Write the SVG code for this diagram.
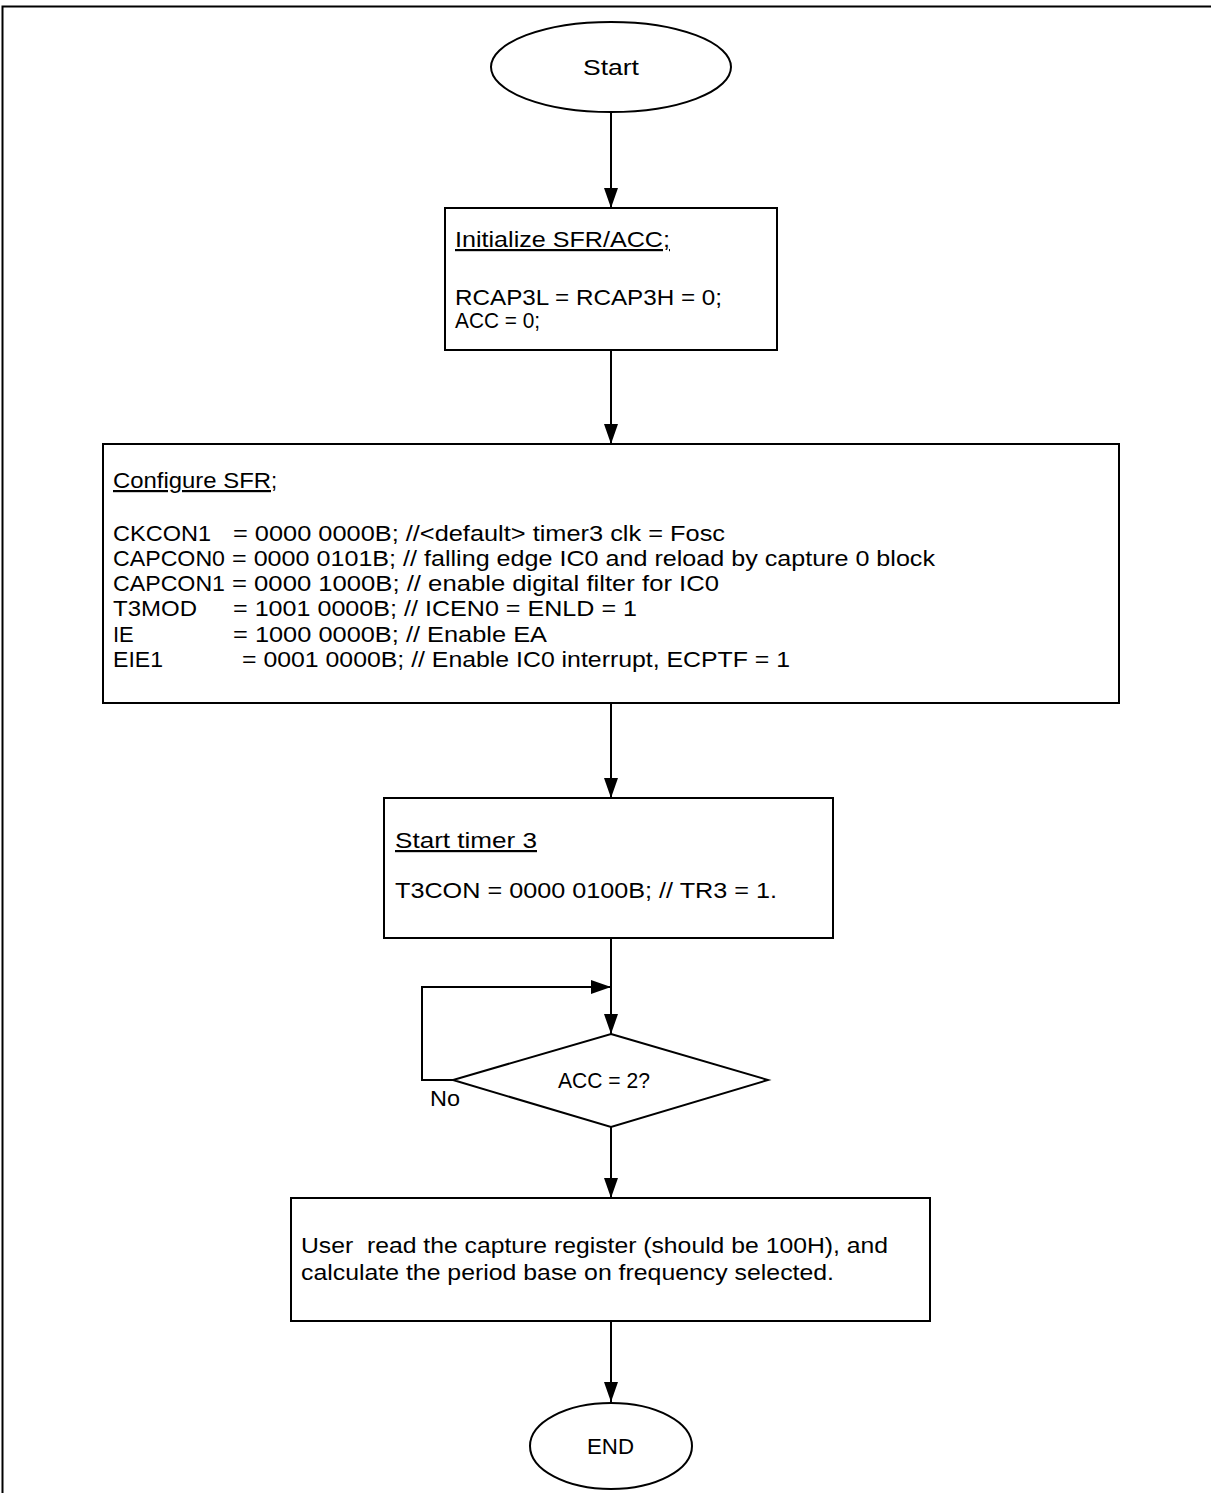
<svg xmlns="http://www.w3.org/2000/svg" width="1211" height="1493" viewBox="0 0 1211 1493">
<style>
  .shape { fill: #fff; stroke: #000; stroke-width: 2; }
  .conn { fill: none; stroke: #000; stroke-width: 2; }
  text { font-family: "Liberation Sans", Arial, sans-serif; font-size: 22px; fill: #000; }
  .u { text-decoration: underline; }
</style>
<defs>
  <marker id="arr" markerWidth="20" markerHeight="14" refX="20" refY="7" orient="auto" markerUnits="userSpaceOnUse">
    <path d="M0,0 L20,7 L0,14 Z" fill="#000"/>
  </marker>
</defs>
<rect x="0" y="0" width="1211" height="1493" fill="#fff"/>
<path d="M2.5,1493 L2.5,6.5 L1211,6.5" fill="none" stroke="#000" stroke-width="2"/>

<g id="connectors">
  <line class="conn" x1="611" y1="112" x2="611" y2="208" marker-end="url(#arr)"/>
  <line class="conn" x1="611" y1="350" x2="611" y2="444" marker-end="url(#arr)"/>
  <line class="conn" x1="611" y1="703" x2="611" y2="798" marker-end="url(#arr)"/>
  <line class="conn" x1="611" y1="938" x2="611" y2="1034" marker-end="url(#arr)"/>
  <polyline class="conn" points="453,1080 422,1080 422,987 611,987" marker-end="url(#arr)"/>
  <line class="conn" x1="611" y1="1127" x2="611" y2="1198" marker-end="url(#arr)"/>
  <line class="conn" x1="611" y1="1321" x2="611" y2="1402" marker-end="url(#arr)"/>
  <text x="430" y="1106" textLength="30" lengthAdjust="spacingAndGlyphs">No</text>
</g>

<g id="start">
  <ellipse class="shape" cx="611" cy="67" rx="120" ry="45"/>
  <text x="583" y="75" textLength="56" lengthAdjust="spacingAndGlyphs">Start</text>
</g>

<g id="init">
  <rect class="shape" x="445" y="208" width="332" height="142"/>
  <text x="455" y="247" class="u" textLength="215" lengthAdjust="spacingAndGlyphs">Initialize SFR/ACC;</text>
  <text x="455" y="305" textLength="267" lengthAdjust="spacingAndGlyphs">RCAP3L = RCAP3H = 0;</text>
  <text x="455" y="328" textLength="85" lengthAdjust="spacingAndGlyphs">ACC = 0;</text>
</g>

<g id="config">
  <rect class="shape" x="103" y="444" width="1016" height="259"/>
  <text x="113" y="488" class="u" textLength="158" lengthAdjust="spacingAndGlyphs">Configure SFR</text>
  <text x="271" y="488">;</text>
  <text x="113" y="541" textLength="98" lengthAdjust="spacingAndGlyphs">CKCON1</text>
  <text x="233" y="541" textLength="492" lengthAdjust="spacingAndGlyphs">= 0000 0000B; //&lt;default&gt; timer3 clk = Fosc</text>
  <text x="113" y="566" textLength="112" lengthAdjust="spacingAndGlyphs">CAPCON0</text>
  <text x="232" y="566" textLength="703" lengthAdjust="spacingAndGlyphs">= 0000 0101B; // falling edge IC0 and reload by capture 0 block</text>
  <text x="113" y="591" textLength="112" lengthAdjust="spacingAndGlyphs">CAPCON1</text>
  <text x="232" y="591" textLength="487" lengthAdjust="spacingAndGlyphs">= 0000 1000B; // enable digital filter for IC0</text>
  <text x="113" y="616" textLength="84" lengthAdjust="spacingAndGlyphs">T3MOD</text>
  <text x="233" y="616" textLength="404" lengthAdjust="spacingAndGlyphs">= 1001 0000B; // ICEN0 = ENLD = 1</text>
  <text x="113" y="642">IE</text>
  <text x="233" y="642" textLength="314" lengthAdjust="spacingAndGlyphs">= 1000 0000B; // Enable EA</text>
  <text x="113" y="667" textLength="50" lengthAdjust="spacingAndGlyphs">EIE1</text>
  <text x="242" y="667" textLength="548" lengthAdjust="spacingAndGlyphs">= 0001 0000B; // Enable IC0 interrupt, ECPTF = 1</text>
</g>

<g id="timer">
  <rect class="shape" x="384" y="798" width="449" height="140"/>
  <text x="395" y="848" class="u" textLength="142" lengthAdjust="spacingAndGlyphs">Start timer 3</text>
  <text x="395" y="898" textLength="382" lengthAdjust="spacingAndGlyphs">T3CON = 0000 0100B; // TR3 = 1.</text>
</g>

<g id="decision">
  <polygon class="shape" points="611,1034 768,1080 611,1127 453,1080"/>
  <text x="558" y="1088" textLength="92" lengthAdjust="spacingAndGlyphs">ACC = 2?</text>
</g>

<g id="read">
  <rect class="shape" x="291" y="1198" width="639" height="123"/>
  <text x="301" y="1253" xml:space="preserve" textLength="587" lengthAdjust="spacingAndGlyphs">User  read the capture register (should be 100H), and</text>
  <text x="301" y="1280" textLength="533" lengthAdjust="spacingAndGlyphs">calculate the period base on frequency selected.</text>
</g>

<g id="end">
  <ellipse class="shape" cx="611" cy="1446" rx="81" ry="43"/>
  <text x="587" y="1454" textLength="47" lengthAdjust="spacingAndGlyphs">END</text>
</g>
</svg>
